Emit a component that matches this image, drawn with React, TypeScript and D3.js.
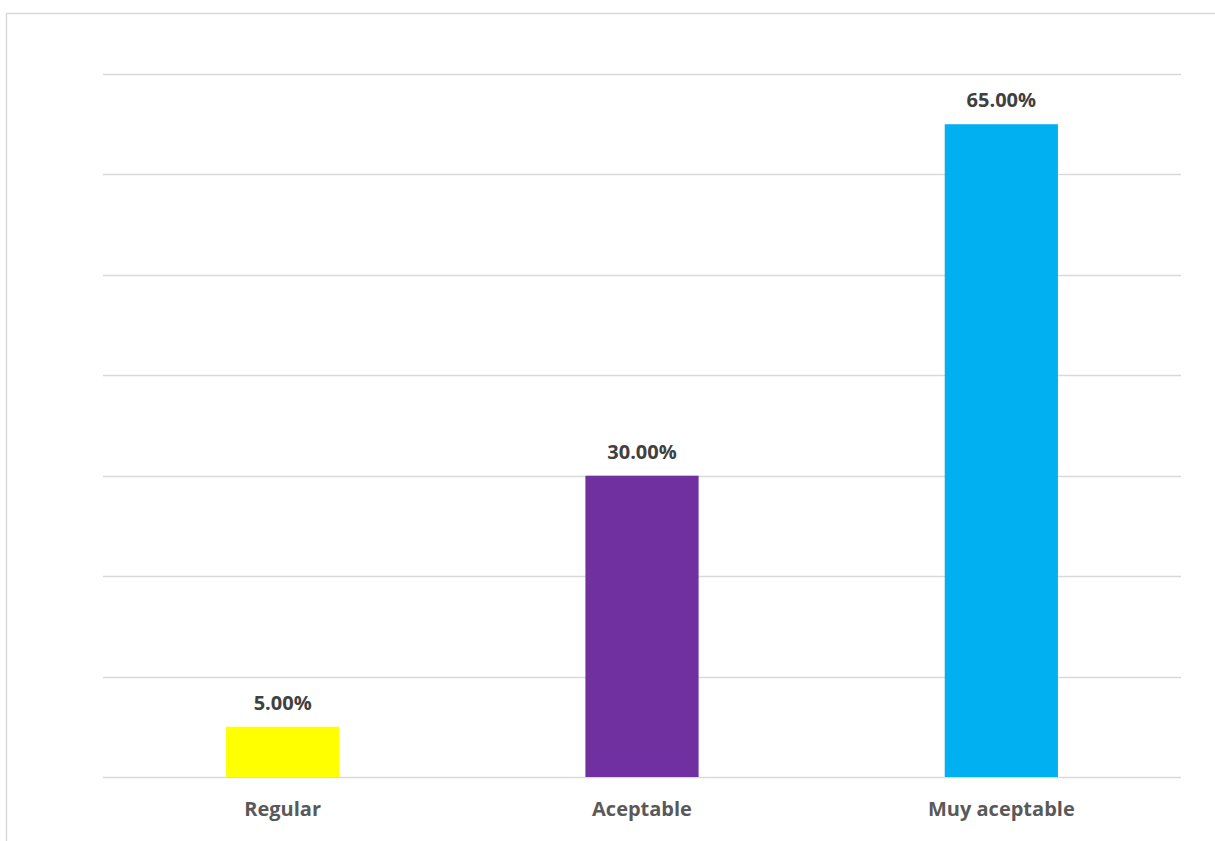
import React from "react";
import * as d3 from "d3";

const categories = ["Regular", "Aceptable", "Muy aceptable"];
const values = [5, 30, 65];
const colors = ["#FFFF00", "#7030A0", "#00B0F0"];
const yTicks = [0, 10, 20, 30, 40, 50, 60, 70];

const W = 1215;
const H = 841;

export default function App() {
  const left = 103;
  const right = 1181;
  const top = 74;
  const bottom = 777;
  const x = d3
    .scaleBand<string>()
    .domain(categories)
    .range([left, right])
    .paddingInner(0.685)
    .paddingOuter(0.3425);
  const y = d3.scaleLinear().domain([0, 70]).range([bottom, top]);
  const font = "'Open Sans', 'Liberation Sans', sans-serif";
  return (
    <svg
      width={W}
      height={H}
      style={{ position: "absolute", left: 0, top: 0, background: "#fff" }}
    >
      <rect x={6.5} y={13.5} width={W + 20} height={H + 20} fill="#fff" stroke="#d9d9d9" strokeWidth={1.5} />
      {yTicks.map((t) => (
        <line
          key={t}
          x1={left}
          x2={right}
          y1={Math.round(y(t)) + 0.5}
          y2={Math.round(y(t)) + 0.5}
          stroke="#d9d9d9"
          strokeWidth={1.5}
        />
      ))}
      {categories.map((c, i) => (
        <g key={c}>
          <rect
            x={x(c)!}
            y={y(values[i])}
            width={x.bandwidth()}
            height={y(0) - y(values[i])}
            fill={colors[i]}
          />
          <text
            x={x(c)! + x.bandwidth() / 2}
            y={y(values[i]) - 17}
            textAnchor="middle"
            fontFamily={font}
            fontWeight="bold"
            fontSize={20}
            fill="#404040"
          >
            {values[i].toFixed(2) + "%"}
          </text>
          <text
            x={x(c)! + x.bandwidth() / 2}
            y={816}
            textAnchor="middle"
            fontFamily={font}
            fontWeight="bold"
            fontSize={20}
            fill="#595959"
          >
            {c}
          </text>
        </g>
      ))}
    </svg>
  );
}
